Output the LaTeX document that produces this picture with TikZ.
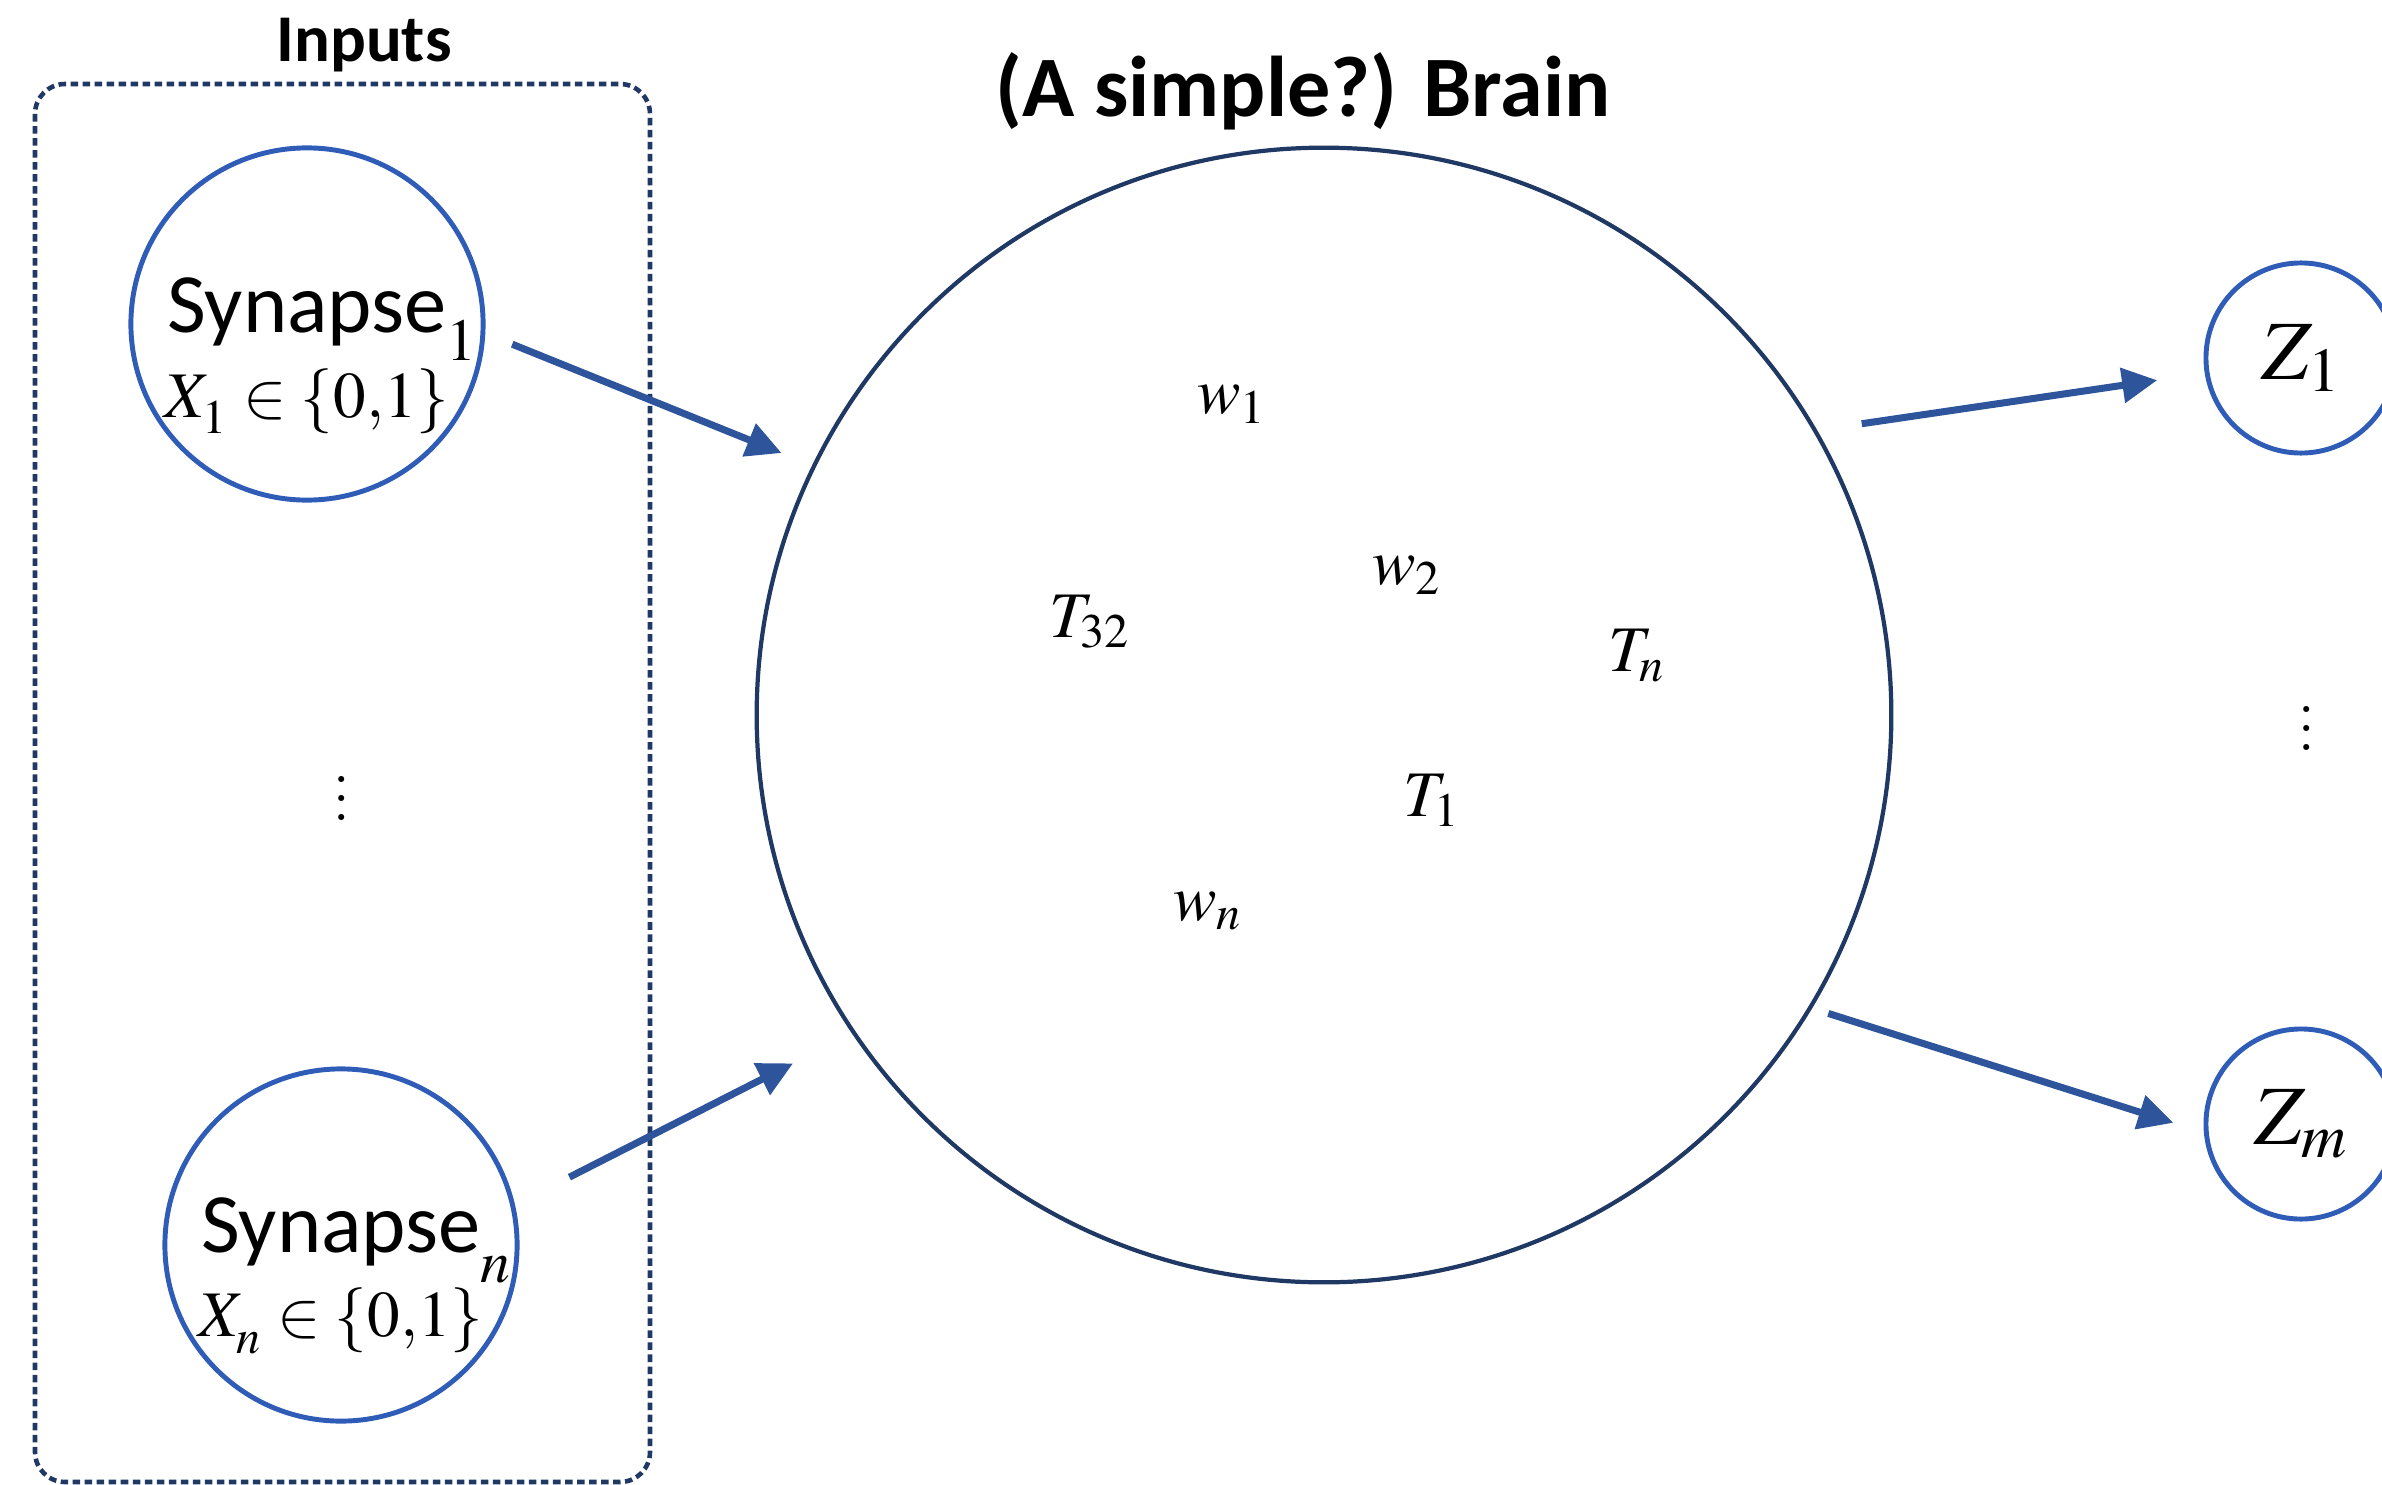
\documentclass[tikz,border=0pt]{standalone}
\usepackage{mathptmx}
\usepackage[no-math]{fontspec}
\newfontfamily\calibri{Carlito}
\usetikzlibrary{arrows.meta}
\definecolor{circblue}{HTML}{2E5CB6}
\definecolor{arrowblue}{HTML}{2E549B}
\definecolor{navy}{HTML}{203864}
\newcommand{\lowsub}[2]{\rlap{\raisebox{#1}{\fontsize{17}{17}\selectfont$#2$}}}

\begin{document}
\begin{tikzpicture}[x=0.01cm, y=-0.01cm,
    neuron/.style={circle, draw=circblue, line width=1.4pt, inner sep=0pt},
    synapse/.style={neuron, minimum size=3.52cm},
    syntext/.style={align=center, inner sep=0pt,
        font=\calibri\fontsize{24}{25}\selectfont},
    output/.style={neuron, minimum size=1.9cm, font=\fontsize{24}{28}\selectfont},
    link/.style={draw=arrowblue, line width=2pt,
        -{Triangle[length=3.5mm, width=3.4mm]}},
    param/.style={font=\fontsize{18.5}{22}\selectfont},
    heading/.style={font=\calibri\bfseries\fontsize{24.5}{28}\selectfont, anchor=base},
    dots/.style={scale=1.35, font=\fontsize{15.5}{15.5}\selectfont}]
    \useasboundingbox (0,0) rectangle (2382,1485);

    % Ingressi
    \draw[navy, line width=1.3pt, rounded corners=3mm,
        dash pattern=on 0.75mm off 0.45mm] (35,84) rectangle (650,1482);
    \node[heading, font=\calibri\bfseries\fontsize{19}{22}\selectfont] (inputs) at (364,62) {Inputs};
    \node[synapse] (syn1) at (307,324) {};
    \node[syntext] (syn1txt) at ([yshift=-3.2mm]syn1.center)
        {Synapse\lowsub{-8pt}{1}\\[-1pt] {\fontsize{18.5}{20}\selectfont $X_{\lower2pt\hbox{$\scriptstyle 1$}} \in \{0{,}1\}$}};
    \node[synapse] (synn) at (341,1245) {};
    \node[syntext] (synntxt) at ([yshift=-3.1mm]synn.center)
        {Synapse\lowsub{-8.5pt}{n}\\[-1pt] {\fontsize{18.5}{20}\selectfont $X_{\lower2pt\hbox{$\scriptstyle n$}} \in \{0{,}1\}$}};
    \node[dots] (vdl) at (342,784) {$\vdots$};

    % Cervello
    \node[heading] (title) at (1303,117) {(A simple?) Brain};
    \node[circle, draw=navy, line width=1.2pt, minimum size=11.34cm] (brain) at (1324,715) {};
    \node[param] (w1) at (1232,404) {$w_1$};
    \node[param] (w2) at (1407,575) {$w_2$};
    \node[param] (T32) at (1090,622) {$T_{32}$};
    \node[param] (Tn) at (1637,656) {$T_n$};
    \node[param] (T1) at (1432,800) {$T_1$};
    \node[param] (wn) at (1208,911) {$w_n$};

    % Uscite
    \node[output] (z1) at (2301,358) {$Z_1$};
    \node[output] (zm) at (2301,1124) {$Z_m$};
    \node[dots] (vdr) at (2307,714) {$\vdots$};

    % Frecce
    \draw[link, shorten <=2.9mm, shorten >=3.3mm] (syn1.-3) -- (brain.154);
    \draw[link, shorten <=6.1mm, shorten >=6.6mm] (synn.13) -- (brain.214);
    \draw[link, shorten <=4.5mm, shorten >=4.8mm] (brain.30) -- (z1.189);
    \draw[link, shorten <=1.7mm, shorten >=3.2mm] (brain.-31.5) -- (zm.185.6);
\end{tikzpicture}
\end{document}
